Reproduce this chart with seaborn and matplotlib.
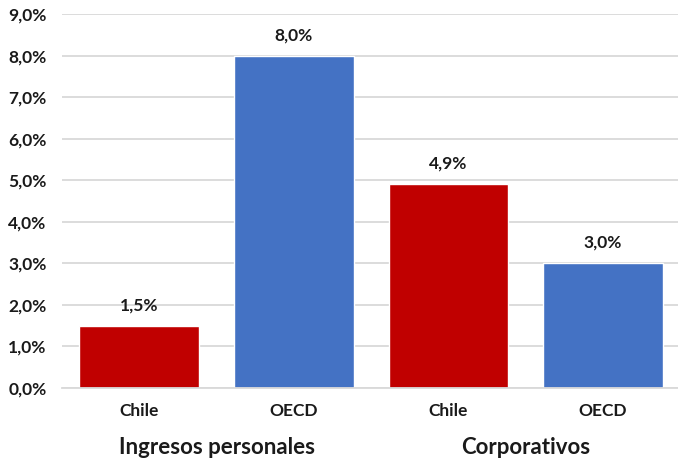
import pandas as pd
import numpy as np
import matplotlib
matplotlib.use("Agg")
import matplotlib.pyplot as plt
import seaborn as sns

# Datos
grupos = ["Ingresos personales", "Ingresos personales", "Corporativos", "Corporativos"]
paises = ["Chile", "OECD", "Chile", "OECD"]
valores = [1.5, 8.0, 4.9, 3.0]
etiquetas_y = [f"{v:.1f}".replace(".", ",") + "%" for v in range(10)]

df = pd.DataFrame({"grupo": grupos, "pais": paises, "valor": valores})
df["pos"] = [f"{g}-{p}" for g, p in zip(df["grupo"], df["pais"])]

sns.set_theme(style="white")
plt.rcParams["font.family"] = ["Lato", "DejaVu Sans"]
plt.rcParams["font.weight"] = "bold"

fig = plt.figure(figsize=(6.78, 4.59), dpi=100)
ax = fig.add_axes([0.0914, 0.1547, 0.912, 0.8148])

colores = {"Chile": "#C00000", "OECD": "#4472C4"}
sns.barplot(data=df, x="pos", y="valor", hue="pais", palette=colores,
            order=list(df["pos"]), width=0.775, dodge=False, legend=False,
            saturation=1, ax=ax)

ax.set_ylim(0, 9)
ax.set_yticks(range(10))
ax.set_yticklabels(etiquetas_y, fontsize=12.5, fontweight="bold", color="#1a1a1a")
ax.set_xticks(range(len(paises)))
ax.set_xticklabels(paises, fontsize=12.5, fontweight="bold", color="#1a1a1a")
ax.tick_params(axis="both", length=0)
ax.tick_params(axis="x", pad=11)
ax.tick_params(axis="y", pad=11)
ax.set_xlabel("")
ax.set_ylabel("")
ax.yaxis.grid(True, color="#d9d9d9", linewidth=1.3)
ax.set_axisbelow(True)
for s in ["top", "right", "left"]:
    ax.spines[s].set_visible(False)
ax.spines["bottom"].set_color("#d9d9d9")
ax.spines["bottom"].set_linewidth(1.3)

# Etiquetas de valor
for cont in ax.containers:
    ax.bar_label(cont, labels=[f"{v:.1f}".replace(".", ",") + "%" for v in cont.datavalues],
                 padding=9, fontsize=12.5, fontweight="bold", color="#1a1a1a")

# Etiquetas de grupo
for i, g in enumerate(["Ingresos personales", "Corporativos"]):
    ax.text(2 * i + 0.5, -0.13, g, transform=ax.get_xaxis_transform(),
            ha="center", va="top", fontsize=16, fontweight="bold", color="#1a1a1a")

fig.savefig("out.png", dpi=100)
